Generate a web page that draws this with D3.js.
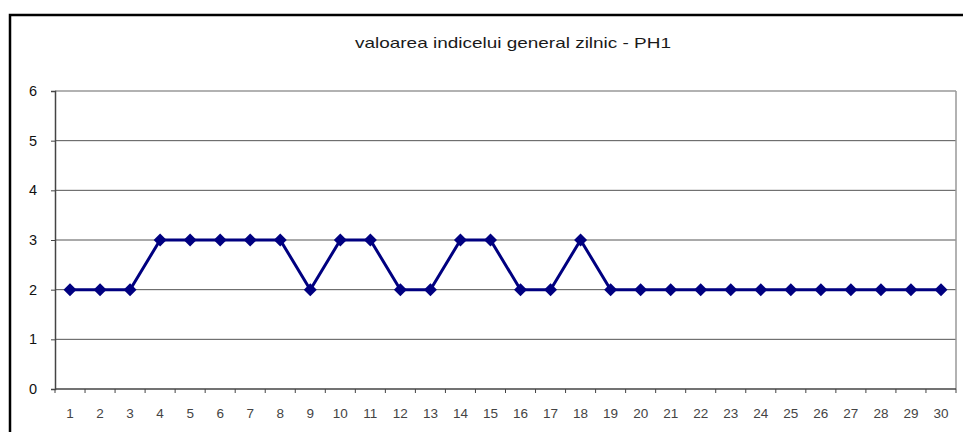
<!DOCTYPE html>
<html>
<head>
<meta charset="utf-8">
<script src="https://cdn.jsdelivr.net/npm/d3@7"></script>
<style>
  body { margin: 0; background: #fff; }
  svg { display: block; font-family: Arial, "Liberation Sans", sans-serif; }
</style>
</head>
<body>
<script>
const days = d3.range(1, 31);
const values = [2, 2, 2, 3, 3, 3, 3, 3, 2, 3, 3, 2, 2, 3, 3, 2, 2, 3, 2, 2, 2, 2, 2, 2, 2, 2, 2, 2, 2, 2];
const yTicks = [0, 1, 2, 3, 4, 5, 6];
const title = "valoarea indicelui general zilnic - PH1";

const width = 963, height = 432;
const margin = {left: 55, right: 7, top: 91, bottom: 43};

const svg = d3.select("body").append("svg")
    .attr("width", width)
    .attr("height", height);

// outer chart frame (bottom is cut off in the picture)
svg.append("rect")
    .attr("x", 10)
    .attr("y", 15)
    .attr("width", 960)
    .attr("height", 440)
    .attr("fill", "none")
    .attr("stroke", "#000")
    .attr("stroke-width", 2.5);

const x = d3.scaleBand()
    .domain(days)
    .range([margin.left, width - margin.right]);

const y = d3.scaleLinear()
    .domain([0, 6])
    .range([height - margin.bottom, margin.top]);

// grid lines
svg.append("g")
    .selectAll("line")
    .data(yTicks.filter(d => d > 0))
    .enter()
    .append("line")
    .attr("x1", margin.left)
    .attr("x2", width - margin.right)
    .attr("y1", d => y(d))
    .attr("y2", d => y(d))
    .attr("stroke", d => d === 6 ? "#999" : "#555")
    .attr("stroke-width", d => d === 6 ? 1.5 : 1);

// right border of plot area
svg.append("line")
    .attr("x1", width - margin.right)
    .attr("x2", width - margin.right)
    .attr("y1", margin.top)
    .attr("y2", height - margin.bottom)
    .attr("stroke", "#999")
    .attr("stroke-width", 1.5);

// y axis
const yAxis = svg.append("g")
    .attr("transform", "translate(" + margin.left + ",0)")
    .call(d3.axisLeft(y).tickValues(yTicks).tickSize(4).tickPadding(8).tickFormat(d3.format("d")));
yAxis.select(".domain").attr("stroke", "#444").attr("stroke-width", 1.5);
yAxis.selectAll(".tick line").attr("stroke", "#444");
yAxis.selectAll("text")
    .attr("font-size", 14.5)
    .attr("fill", "#111")
    .attr("dx", -6);

// x axis: ticks between categories
const xAxisG = svg.append("g")
    .attr("transform", "translate(0," + y(0) + ")");
xAxisG.append("line")
    .attr("x1", margin.left)
    .attr("x2", width - margin.right)
    .attr("stroke", "#444")
    .attr("stroke-width", 1.5);
xAxisG.selectAll(".sep")
    .data(days.concat([31]))
    .enter()
    .append("line")
    .attr("class", "sep")
    .attr("x1", d => d <= 30 ? x(d) : x(30) + x.bandwidth())
    .attr("x2", d => d <= 30 ? x(d) : x(30) + x.bandwidth())
    .attr("y1", 0)
    .attr("y2", 4)
    .attr("stroke", "#444");
xAxisG.selectAll(".lbl")
    .data(days)
    .enter()
    .append("text")
    .attr("class", "lbl")
    .attr("x", d => x(d) + x.bandwidth() / 2)
    .attr("y", 29)
    .attr("text-anchor", "middle")
    .attr("font-size", 13.5)
    .attr("fill", "#444")
    .text(d => d);

// title, stretched like the source image
svg.append("text")
    .attr("x", 513)
    .attr("y", 48)
    .attr("text-anchor", "middle")
    .attr("font-size", 15)
    .attr("fill", "#1a1a1a")
    .attr("textLength", 316)
    .attr("lengthAdjust", "spacingAndGlyphs")
    .text(title);

// series line
const line = d3.line()
    .x((d, i) => x(days[i]) + x.bandwidth() / 2)
    .y(d => y(d));

svg.append("path")
    .datum(values)
    .attr("d", line)
    .attr("fill", "none")
    .attr("stroke", "#000080")
    .attr("stroke-width", 3)
    .attr("stroke-linejoin", "round");

// diamond markers
svg.append("g")
    .selectAll("path")
    .data(values)
    .enter()
    .append("path")
    .attr("transform", (d, i) => "translate(" + (x(days[i]) + x.bandwidth() / 2) + "," + y(d) + ")")
    .attr("d", "M0,-6.5L6.5,0L0,6.5L-6.5,0Z")
    .attr("fill", "#000080");
</script>
</body>
</html>
